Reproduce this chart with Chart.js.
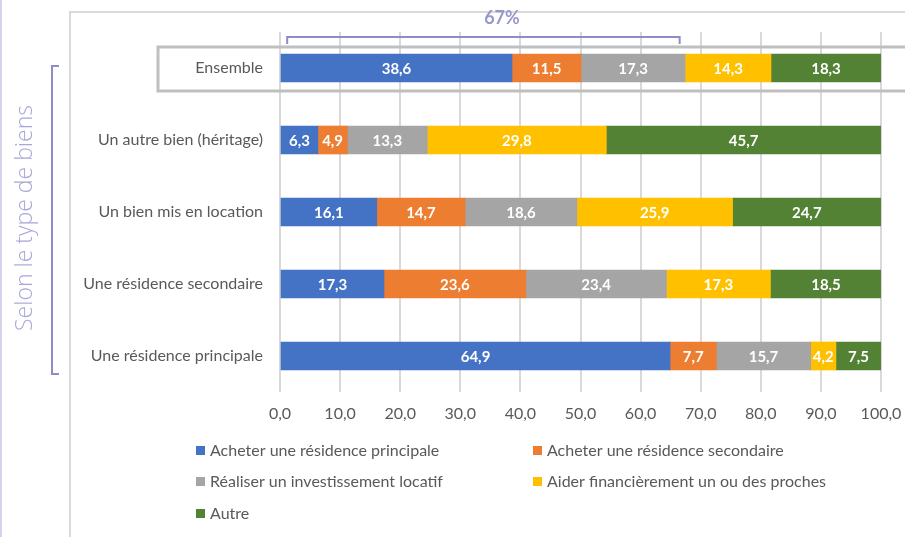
<!DOCTYPE html>
<html>
<head>
<meta charset="utf-8">
<script src="https://cdn.jsdelivr.net/npm/chart.js@4"></script>
<style>
  body { margin: 0; background: #fff; }
  #wrap { width: 905px; height: 537px; }
</style>
</head>
<body>
<div id="wrap"><canvas id="chart" width="905" height="537"></canvas></div>
<script>
const categories = ['Ensemble', 'Un autre bien (héritage)', 'Un bien mis en location', 'Une résidence secondaire', 'Une résidence principale'];
const seriesNames = ['Acheter une résidence principale', 'Acheter une résidence secondaire', 'Réaliser un investissement locatif', 'Aider financièrement un ou des proches', 'Autre'];
const seriesColors = ['#4472C4', '#ED7D31', '#A5A5A5', '#FFC000', '#548235'];

const principale = [38.6, 6.3, 16.1, 17.3, 64.9];
const secondaire = [11.5, 4.9, 14.7, 23.6, 7.7];
const locatif = [17.3, 13.3, 18.6, 23.4, 15.7];
const proches = [14.3, 29.8, 25.9, 17.3, 4.2];
const autre = [18.3, 45.7, 24.7, 18.5, 7.5];

const bracketLabel = '67%';
const sideTitle = 'Selon le type de biens';

const FONT = 'Lato, "Open Sans", sans-serif';
const fmt = v => v.toFixed(1).replace('.', ',');

// draws the values inside each bar segment
const valueLabels = {
    id: 'valueLabels',
    afterDatasetsDraw(chart) {
        const ctx = chart.ctx;
        ctx.save();
        ctx.font = 'bold 15px ' + FONT;
        ctx.fillStyle = '#fff';
        ctx.textAlign = 'center';
        ctx.textBaseline = 'middle';
        chart.data.datasets.forEach((ds, i) => {
            chart.getDatasetMeta(i).data.forEach((bar, j) => {
                ctx.fillText(fmt(ds.data[j]), (bar.x + bar.base) / 2, bar.y + 1);
            });
        });
        ctx.restore();
    }
};

// frame, side bracket, Ensemble box, 67% bracket and legend
const decorations = {
    id: 'decorations',
    beforeDraw(chart) {
        const ctx = chart.ctx;
        ctx.save();
        ctx.strokeStyle = '#d9d9d9';
        ctx.lineWidth = 2;
        ctx.beginPath();
        ctx.moveTo(905, 12);
        ctx.lineTo(70, 12);
        ctx.lineTo(70, 537);
        ctx.stroke();

        ctx.strokeStyle = '#d6d2ec';
        ctx.lineWidth = 2;
        ctx.beginPath();
        ctx.moveTo(1, 0);
        ctx.lineTo(1, 537);
        ctx.stroke();

        // side bracket
        ctx.strokeStyle = '#8d8cc4';
        ctx.lineWidth = 2;
        ctx.beginPath();
        ctx.moveTo(59, 66);
        ctx.lineTo(52, 66);
        ctx.lineTo(52, 374);
        ctx.lineTo(59, 374);
        ctx.stroke();

        ctx.translate(25, 218);
        ctx.rotate(-Math.PI / 2);
        ctx.font = '300 23px "Open Sans", sans-serif';
        ctx.fillStyle = '#a9a7d9';
        ctx.textAlign = 'center';
        ctx.textBaseline = 'middle';
        ctx.fillText(sideTitle, 0, 0);
        ctx.restore();
    },
    afterDraw(chart) {
        const ctx = chart.ctx;
        const x = chart.scales.x;
        const y = chart.scales.y;
        ctx.save();

        // box round Ensemble
        const yc = y.getPixelForValue(0);
        ctx.strokeStyle = '#bfbfbf';
        ctx.lineWidth = 3;
        ctx.strokeRect(158, yc - 21, 760, 44);

        // 67% bracket
        const x0 = x.getPixelForValue(1.2);
        const x1 = x.getPixelForValue(66.5);
        ctx.strokeStyle = '#8d8cc4';
        ctx.lineWidth = 2;
        ctx.beginPath();
        ctx.moveTo(x0, 44);
        ctx.lineTo(x0, 37);
        ctx.lineTo(x1, 37);
        ctx.lineTo(x1, 44);
        ctx.stroke();
        ctx.font = 'bold 18px ' + FONT;
        ctx.fillStyle = '#9897cc';
        ctx.textAlign = 'center';
        ctx.textBaseline = 'middle';
        ctx.fillText(bracketLabel, 502, 18);

        // legend in two columns
        const cols = [196, 533];
        const rows = [451, 482, 514];
        ctx.font = '16px ' + FONT;
        ctx.textAlign = 'left';
        chart.data.datasets.forEach((ds, i) => {
            const lx = cols[i % 2];
            const ly = rows[Math.floor(i / 2)];
            ctx.fillStyle = ds.backgroundColor;
            ctx.fillRect(lx, ly - 5, 9, 9);
            ctx.fillStyle = '#595959';
            ctx.fillText(ds.label, lx + 14, ly);
        });
        ctx.restore();
    }
};

const allSeries = [principale, secondaire, locatif, proches, autre];

new Chart(document.getElementById('chart'), {
    type: 'bar',
    data: {
        labels: categories,
        datasets: allSeries.map((data, i) => ({
            label: seriesNames[i],
            data: data,
            backgroundColor: seriesColors[i],
            borderWidth: 0,
            barThickness: 28
        }))
    },
    options: {
        indexAxis: 'y',
        responsive: false,
        animation: false,
        layout: { padding: { top: 32, right: 24, bottom: 115, left: 0 } },
        plugins: {
            legend: { display: false },
            tooltip: { enabled: false }
        },
        scales: {
            x: {
                stacked: true,
                min: 0,
                max: 100,
                afterFit: s => { s.height = 30; s.paddingRight = 0; },
                grid: { color: '#d9d9d9', lineWidth: 2, drawTicks: false },
                border: { display: false },
                ticks: {
                    stepSize: 10,
                    padding: 12,
                    color: '#595959',
                    font: { family: FONT, size: 16 },
                    callback: v => fmt(v)
                }
            },
            y: {
                stacked: true,
                afterFit: s => { s.width = 280; },
                grid: { display: false, drawTicks: false },
                border: { display: false },
                ticks: {
                    padding: 17,
                    color: '#595959',
                    font: { family: FONT, size: 16 }
                }
            }
        }
    },
    plugins: [valueLabels, decorations]
});
</script>
</body>
</html>
